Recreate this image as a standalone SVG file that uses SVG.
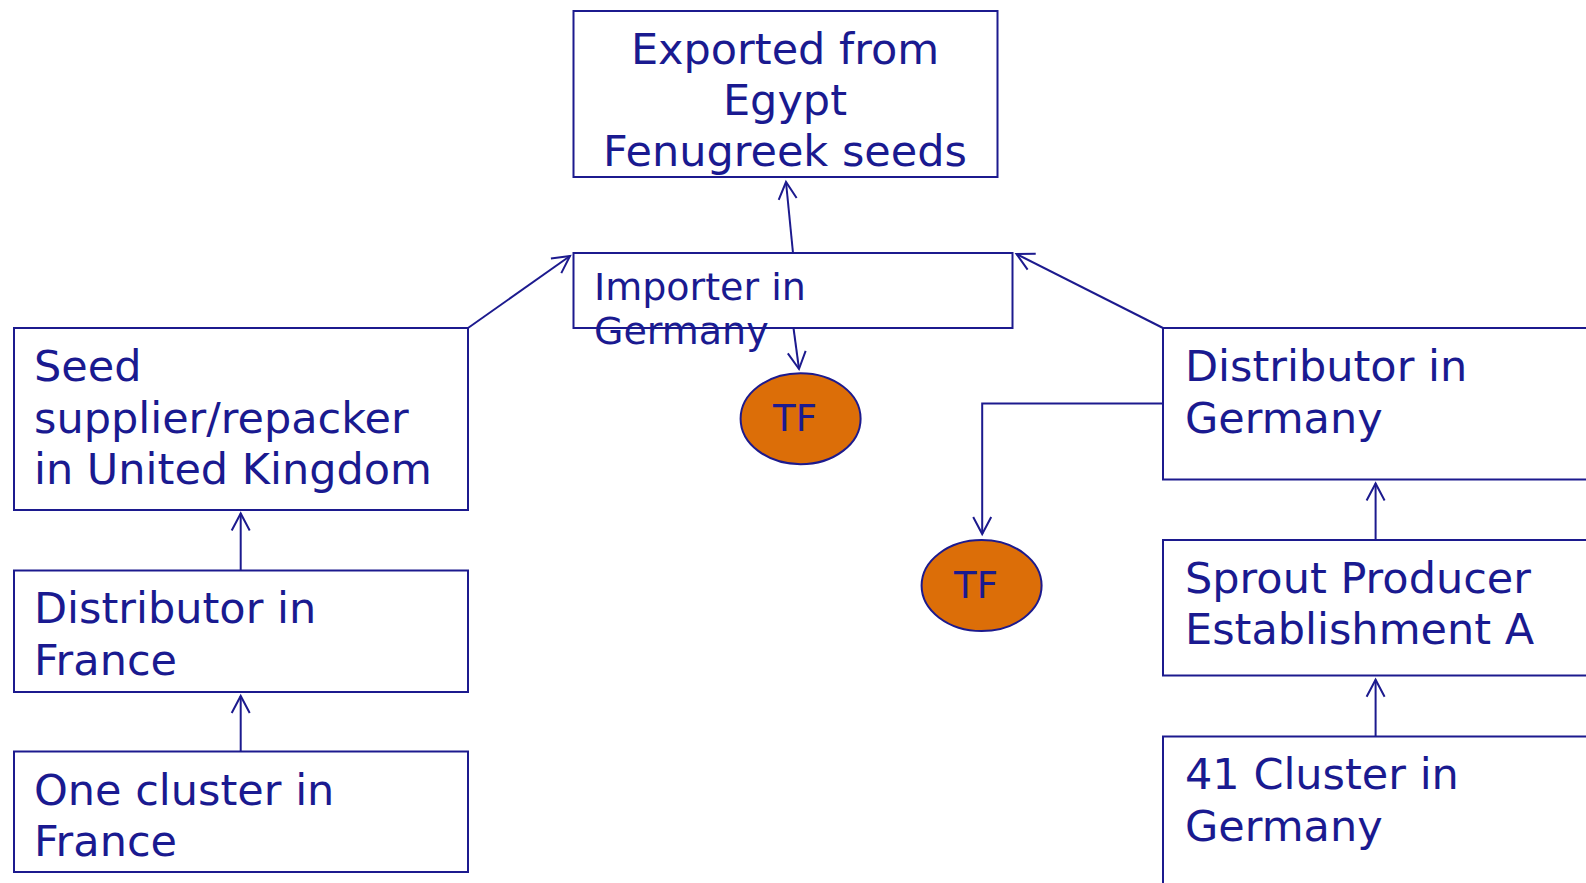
<svg xmlns="http://www.w3.org/2000/svg" width="1586" height="883" viewBox="0 0 1586 883">
<style>
.box{fill:#fff;stroke:#1C1A8E;stroke-width:2}
.tf{fill:#DC6E08;stroke:#1C1A8E;stroke-width:2}
.t{font-family:"DejaVu Sans",Verdana,sans-serif;font-size:43px;fill:#1A1A90}
.ti{font-size:38px}
.ttf{font-size:37px}
.c{fill:none;stroke:#1C1A8E;stroke-width:2}
</style>
<defs>
<marker id="ah" viewBox="-20 -12 24 24" refX="0" refY="0" markerWidth="24" markerHeight="24" markerUnits="userSpaceOnUse" orient="auto">
<path d="M-17,-9 L0,0 L-17,9" fill="none" stroke="#1C1A8E" stroke-width="2"/>
</marker>
</defs>
<rect width="1586" height="883" fill="#fff"/>
<g id="egypt"><rect class="box" x="573.5" y="11" width="424" height="166"/>
<text class="t" text-anchor="middle"><tspan x="785" y="64">Exported from</tspan><tspan x="785" y="115">Egypt</tspan><tspan x="785" y="166">Fenugreek seeds</tspan></text></g>
<g id="importer"><rect class="box" x="573.5" y="253" width="439" height="75"/>
<text class="t ti"><tspan x="594" y="300">Importer in</tspan><tspan x="594" y="344">Germany</tspan></text></g>
<g id="tf1"><ellipse class="tf" cx="800.6" cy="418.7" rx="60" ry="45.5"/>
<text class="t ttf" x="795" y="431" text-anchor="middle">TF</text></g>
<g id="tf2"><ellipse class="tf" cx="981.6" cy="585.6" rx="60" ry="45.5"/>
<text class="t ttf" x="976" y="598" text-anchor="middle">TF</text></g>
<g id="uk"><rect class="box" x="14" y="328" width="454" height="182"/>
<text class="t"><tspan x="34" y="381">Seed</tspan><tspan x="34" y="433">supplier/repacker</tspan><tspan x="34" y="484">in United Kingdom</tspan></text></g>
<g id="distfr"><rect class="box" x="14" y="570.5" width="454" height="121.5"/>
<text class="t"><tspan x="34" y="623">Distributor in</tspan><tspan x="34" y="675">France</tspan></text></g>
<g id="clusterfr"><rect class="box" x="14" y="751.5" width="454" height="120.5"/>
<text class="t"><tspan x="34" y="805">One cluster in</tspan><tspan x="34" y="856">France</tspan></text></g>
<g id="distde"><rect class="box" x="1163" y="328" width="440" height="151.5"/>
<text class="t"><tspan x="1185" y="381">Distributor in</tspan><tspan x="1185" y="433">Germany</tspan></text></g>
<g id="sprout"><rect class="box" x="1163" y="540" width="440" height="135.5"/>
<text class="t"><tspan x="1185" y="593">Sprout Producer</tspan><tspan x="1185" y="644">Establishment A</tspan></text></g>
<g id="clusterde"><rect class="box" x="1163" y="736.5" width="440" height="160"/>
<text class="t"><tspan x="1185" y="789">41 Cluster in</tspan><tspan x="1185" y="841">Germany</tspan></text></g>
<g id="connectors">
<line class="c" x1="793" y1="253" x2="786" y2="182" marker-end="url(#ah)"/>
<line class="c" x1="793.5" y1="328" x2="799" y2="369" marker-end="url(#ah)"/>
<line class="c" x1="468" y1="328" x2="570" y2="256" marker-end="url(#ah)"/>
<line class="c" x1="1163" y1="328" x2="1016.5" y2="254" marker-end="url(#ah)"/>
<polyline class="c" points="1163,403.6 982.2,403.6 982.2,534" marker-end="url(#ah)"/>
<line class="c" x1="240.7" y1="570.5" x2="240.7" y2="513.5" marker-end="url(#ah)"/>
<line class="c" x1="240.7" y1="751.5" x2="240.7" y2="696" marker-end="url(#ah)"/>
<line class="c" x1="1375.6" y1="540" x2="1375.6" y2="483.5" marker-end="url(#ah)"/>
<line class="c" x1="1375.6" y1="736.5" x2="1375.6" y2="679.7" marker-end="url(#ah)"/>
</g>
</svg>
